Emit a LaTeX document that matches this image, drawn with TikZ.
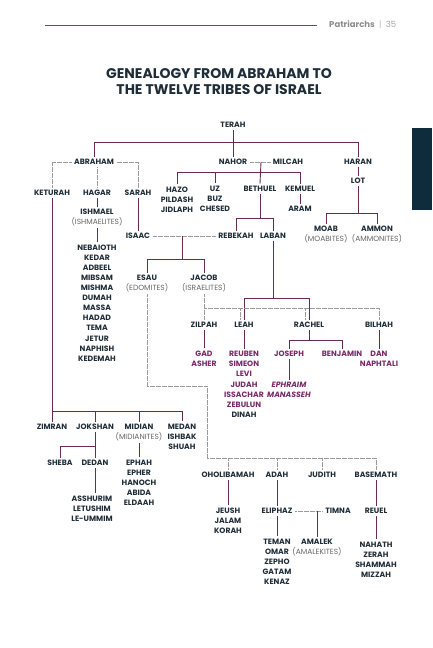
\documentclass[tikz,border=0pt]{standalone}
\usepackage{fontspec}
\setmainfont{Poppins}
\usetikzlibrary{calc}
\definecolor{navy}{HTML}{1F2D38}
\definecolor{plum}{HTML}{6A2A57}
\definecolor{tribe}{HTML}{7A2867}
\definecolor{paren}{HTML}{666666}
\definecolor{dotc}{HTML}{9A9A9A}
\definecolor{tabc}{HTML}{0E2C3B}
\definecolor{headc}{HTML}{8C8C8C}
\begin{document}
\begin{tikzpicture}[x=1pt,y=-1pt,
  nm/.style={font=\bfseries\fontsize{7.7}{10.1}\selectfont, text=navy, inner xsep=2.5pt, inner ysep=2.5pt, align=center},
  tr/.style={nm, text=tribe},
  par/.style={font=\fontsize{7.5}{10.1}\selectfont, text=paren, inner xsep=1pt, inner ysep=1.5pt},
  sl/.style={draw=plum, line width=0.9pt},
  dl/.style={draw=dotc, line width=0.5pt, dash pattern=on 0.3pt off 0.9pt},
]
\useasboundingbox (0,0) rectangle (432,648);
% header
\draw[plum!70!gray, line width=0.6pt] (45,25) -- (317,25);
\node[anchor=west, inner sep=0, font=\fontsize{8.5}{9}\selectfont] (hdr) at (329,25) {\textcolor{headc}{\bfseries Patriarchs}\enspace\textcolor{headc!60}{|}\enspace\textcolor{headc!80}{35}};
\fill[tabc] (412,128) rectangle (432,210);
% title
\node[font=\bfseries\fontsize{14}{16}\selectfont, text=navy, inner sep=0] (t1) at (219,74) {GENEALOGY FROM ABRAHAM TO};
\node[font=\bfseries\fontsize{14}{16}\selectfont, text=navy, inner sep=0] (t2) at (219,90) {THE TWELVE TRIBES OF ISRAEL};

% nodes
\node[nm] (terah) at (233,125) {TERAH};
\node[nm] (abraham) at (94,162) {ABRAHAM};
\node[nm] (nahor) at (233,162) {NAHOR};
\node[nm] (milcah) at (288,162) {MILCAH};
\node[nm] (haran) at (358,162) {HARAN};
\node[nm] (keturah) at (52,193) {KETURAH};
\node[nm] (hagar) at (97,193) {HAGAR};
\node[nm] (sarah) at (138,193) {SARAH};
\node[nm] (ishmael) at (97,212) {ISHMAEL};
\node[par] (ishmaelites) at (97,222) {(ISHMAELITES)};
\node[nm] (isaac) at (138,236) {ISAAC};
\node[nm] (hazo) at (177,200) {HAZO\\PILDASH\\JIDLAPH};
\node[nm] (uz) at (215,199) {UZ\\BUZ\\CHESED};
\node[nm] (bethuel) at (260,189) {BETHUEL};
\node[nm] (kemuel) at (300,189) {KEMUEL};
\node[nm] (aram) at (300,209) {ARAM};
\node[nm] (lot) at (358,181) {LOT};
\node[nm] (rebekah) at (236,236) {REBEKAH};
\node[nm] (laban) at (273,236) {LABAN};
\node[nm] (moab) at (326,229) {MOAB};
\node[par] (moabites) at (326,239) {(MOABITES)};
\node[nm] (ammon) at (377,229) {AMMON};
\node[par] (ammonites) at (377,239) {(AMMONITES)};
\node[nm] (nebaioth) at (97,303) {NEBAIOTH\\KEDAR\\ADBEEL\\MIBSAM\\MISHMA\\DUMAH\\MASSA\\HADAD\\TEMA\\JETUR\\NAPHISH\\KEDEMAH};
\node[nm] (esau) at (147,278) {ESAU};
\node[par] (edomites) at (147,288) {(EDOMITES)};
\node[nm] (jacob) at (204,278) {JACOB};
\node[par] (israelites) at (204,288) {(ISRAELITES)};
\node[nm] (zilpah) at (204,325) {ZILPAH};
\node[nm] (leah) at (244,325) {LEAH};
\node[nm] (rachel) at (309,325) {RACHEL};
\node[nm] (bilhah) at (379,325) {BILHAH};
\node[tr] (gad) at (204,359) {GAD\\ASHER};
\node[tr] (leahsons) at (244,379.3) {REUBEN\\SIMEON\\LEVI\\JUDAH\\ISSACHAR\\ZEBULUN};
\node[nm] (dinah) at (244,415) {DINAH};
\node[tr] (joseph) at (289,354) {JOSEPH};
\node[tr] (benjamin) at (342,354) {BENJAMIN};
\node[tr, font=\bfseries\itshape\fontsize{7.7}{10.1}\selectfont] (ephraim) at (289,390) {EPHRAIM\\MANASSEH};
\node[tr] (dan) at (379,359) {DAN\\NAPHTALI};
\node[nm] (zimran) at (52,427) {ZIMRAN};
\node[nm] (jokshan) at (95,427) {JOKSHAN};
\node[nm] (midian) at (139,427) {MIDIAN};
\node[par] (midianites) at (139,437) {(MIDIANITES)};
\node[nm] (medan) at (182,437) {MEDAN\\ISHBAK\\SHUAH};
\node[nm] (sheba) at (60,463) {SHEBA};
\node[nm] (dedan) at (95,463) {DEDAN};
\node[nm] (asshurim) at (92,509) {ASSHURIM\\LETUSHIM\\LE-UMMIM};
\node[nm] (ephah) at (139,483) {EPHAH\\EPHER\\HANOCH\\ABIDA\\ELDAAH};
\node[nm] (oholibamah) at (228,475) {OHOLIBAMAH};
\node[nm] (adah) at (277,475) {ADAH};
\node[nm] (judith) at (322,475) {JUDITH};
\node[nm] (basemath) at (376,475) {BASEMATH};
\node[nm] (jeush) at (228,521) {JEUSH\\JALAM\\KORAH};
\node[nm] (eliphaz) at (277,511) {ELIPHAZ};
\node[nm] (timna) at (338,511) {TIMNA};
\node[nm] (reuel) at (376,511) {REUEL};
\node[nm] (teman) at (277,562) {TEMAN\\OMAR\\ZEPHO\\GATAM\\KENAZ};
\node[nm] (amalek) at (317,542) {AMALEK};
\node[par] (amalekites) at (317,552) {(AMALEKITES)};
\node[nm] (nahath) at (376,560) {NAHATH\\ZERAH\\SHAMMAH\\MIZZAH};

% junction coordinates
\coordinate (tb) at (0,142);
\coordinate (kb) at (0,411);
\coordinate (jb) at (0,446);
\coordinate (nmc) at (261,162);
\coordinate (nb) at (0,172);
\coordinate (bb) at (0,218);
\coordinate (lb) at (0,213);
\coordinate (ir) at (182,236);
\coordinate (eb) at (0,259);
\coordinate (wb) at (0,298);
\coordinate (jd) at (0,308);
\coordinate (ld) at (240,308);
\coordinate (rd) at (305,308);
\coordinate (rb) at (0,340);
\coordinate (e1) at (146,386);
\coordinate (e2) at (207,386);
\coordinate (e3) at (207,458);
\coordinate (et) at (317,511);

% Terah
\draw[sl] (abraham.north) -- (abraham.north |- tb) -- (haran.north |- tb) -- (haran.north);
\draw[sl] (terah.south) -- (nahor.north);
% Abraham
\draw[dl] (abraham.west) -| (keturah.north);
\draw[dl] (abraham.east) -| (sarah.north);
\draw[dl] (hagar.north |- abraham.south) -- (hagar.north);
\draw[sl] (hagar.south) -- (ishmael.north);
\draw[sl] (ishmaelites.south) -- (nebaioth.north);
\draw[sl] (sarah.south) -- (isaac.north);
% Keturah
\draw[sl] (keturah.south) -- (zimran.north);
\draw[sl] (keturah.south |- kb) -- (medan.north |- kb) -- (medan.north);
\draw[sl] (jokshan.north |- kb) -- (jokshan.north);
\draw[sl] (midian.north |- kb) -- (midian.north);
\draw[sl] (jokshan.south) -- (dedan.north);
\draw[sl] (sheba.north) -- (sheba.north |- jb) -- (dedan.north |- jb);
\draw[sl] (dedan.south) -- (dedan.south |- asshurim.north);
\draw[sl] (midianites.south) -- (ephah.north);
% Nahor
\draw[dl] (nahor.east) -- (milcah.west);
\draw[sl] (nmc) -- (bethuel.north);
\draw[sl] (hazo.north) -- (hazo.north |- nb) -- (kemuel.north |- nb) -- (kemuel.north);
\draw[sl] (uz.north |- nb) -- (uz.north);
\draw[sl] (kemuel.south) -- (aram.north);
\draw[sl] (bethuel.south) -- (bethuel.south |- bb);
\draw[sl] (rebekah.north) -- (rebekah.north |- bb) -- (laban.north |- bb) -- (laban.north);
% Haran
\draw[sl] (haran.south) -- (lot.north);
\draw[sl] (lot.south) -- (lot.south |- lb);
\draw[sl] (moab.north) -- (moab.north |- lb) -- (ammon.north |- lb) -- (ammon.north);
% Isaac
\draw[dl] (isaac.east) -- (rebekah.west);
\draw[sl] (ir) -- (ir |- eb);
\draw[sl] (esau.north) -- (esau.north |- eb) -- (jacob.north |- eb) -- (jacob.north);
% Laban
\draw[sl] (laban.south) -- (laban.south |- wb);
\draw[sl] (leah.north) -- (leah.north |- wb) -- (rachel.north |- wb) -- (rachel.north);
% Jacob
\draw[dl] (israelites.south) -- (zilpah.north);
\draw[dl] (israelites.south |- jd) -- (bilhah.north |- jd) -- (bilhah.north);
\draw[dl] (ld) -- (ld |- leah.north);
\draw[dl] (rd) -- (rd |- rachel.north);
\draw[sl] (zilpah.south) -- (gad.north);
\draw[sl] (leah.south) -- (leahsons.north);
\draw[sl] (rachel.south) -- (rachel.south |- rb);
\draw[sl] (joseph.north) -- (joseph.north |- rb) -- (benjamin.north |- rb) -- (benjamin.north);
\draw[sl] (joseph.south) -- (ephraim.north);
\draw[sl] (bilhah.south) -- (dan.north);
% Esau
\draw[dl] (edomites.south) -- (edomites.south |- e1) -- (e2) -- (e3) -- (basemath.north |- e3) -- (basemath.north);
\draw[dl] (oholibamah.north |- e3) -- (oholibamah.north);
\draw[dl] (adah.north |- e3) -- (adah.north);
\draw[dl] (judith.north |- e3) -- (judith.north);
\draw[sl] (oholibamah.south) -- (jeush.north);
\draw[sl] (adah.south) -- (eliphaz.north);
\draw[dl] (eliphaz.east) -- (timna.west);
\draw[sl] (et) -- (amalek.north);
\draw[sl] (eliphaz.south) -- (teman.north);
\draw[sl] (basemath.south) -- (reuel.north);
\draw[sl] (reuel.south) -- (nahath.north);
\end{tikzpicture}
\end{document}
